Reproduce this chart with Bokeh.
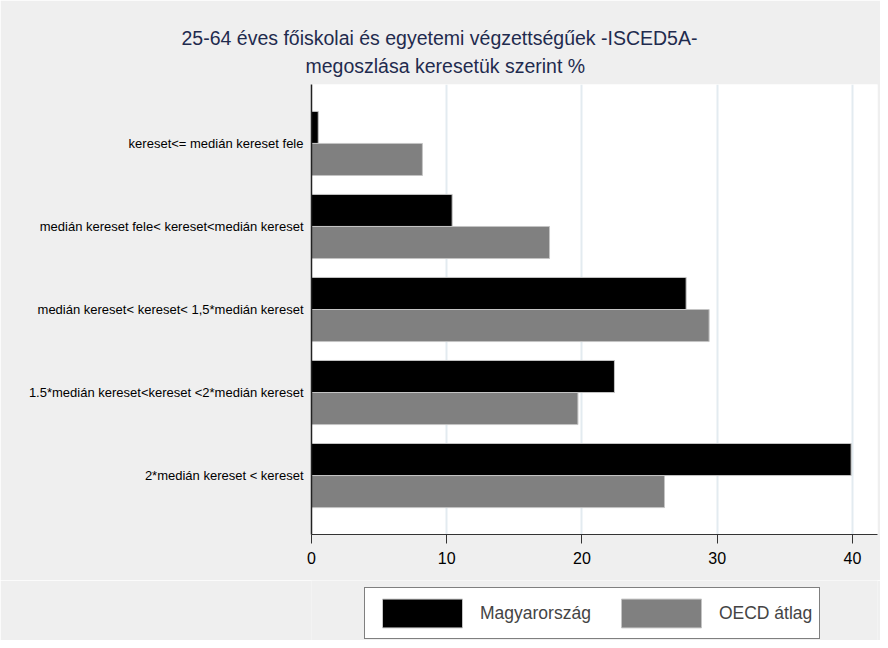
from bokeh.plotting import figure
from bokeh.layouts import column
from bokeh.models import (ColumnDataSource, FactorRange, Range1d, FixedTicker,
                          Legend, LegendItem, Title)
from bokeh.transform import dodge
from bokeh.embed import file_html
from bokeh.resources import INLINE

categories = [
    "kereset<= medián kereset fele",
    "medián kereset fele< kereset<medián kereset",
    "medián kereset< kereset< 1,5*medián kereset",
    "1.5*medián kereset<kereset <2*medián kereset",
    "2*medián kereset < kereset",
]
hungary = [0.5, 10.4, 27.7, 22.4, 39.9]
oecd = [8.2, 17.6, 29.4, 19.7, 26.1]
series_names = ["Magyarország", "OECD átlag"]
series_colors = ["#000000", "#808080"]
x_ticks = [0, 10, 20, 30, 40]
title_lines = ["25-64 éves főiskolai és egyetemi végzettségűek -ISCED5A-",
               "megoszlása keresetük szerint %"]

FONT = "Liberation Sans"
BG = "#efefef"
TITLE_COLOR = "#1f2b4e"
BAR_LINE = "#c4c4c4"

src = ColumnDataSource(dict(cat=categories, hu=hungary, oecd=oecd))

p = figure(
    y_range=FactorRange(factors=categories[::-1], range_padding=0.084),
    x_range=Range1d(0, 41.85),
    width=880, height=580,
    min_border_left=311, min_border_right=3,
    min_border_top=84, min_border_bottom=46,
    output_backend="svg", toolbar_location=None,
    background_fill_color="white", border_fill_color=BG,
    outline_line_color=None,
)

# second title line first: it sits closest to the plot
p.add_layout(Title(text=title_lines[1], align="left", text_font=FONT,
                   text_font_size="19.5px", text_font_style="normal",
                   text_color=TITLE_COLOR, offset=-6, standoff=15), "above")
p.add_layout(Title(text=title_lines[0], align="left", text_font=FONT,
                   text_font_size="19.5px", text_font_style="normal",
                   text_color=TITLE_COLOR, offset=-130, standoff=-7), "above")

p.hbar(y=dodge("cat", 0.193, range=p.y_range), right="hu", left=0,
       height=0.386, source=src, fill_color=series_colors[0],
       line_color=BAR_LINE, line_width=1)
p.hbar(y=dodge("cat", -0.193, range=p.y_range), right="oecd", left=0,
       height=0.386, source=src, fill_color=series_colors[1],
       line_color=BAR_LINE, line_width=1)

# axes
p.xaxis.ticker = FixedTicker(ticks=x_ticks)
p.xaxis.minor_tick_line_color = None
p.xaxis.major_tick_out = 9
p.xaxis.major_tick_in = 0
p.xaxis.major_tick_line_color = "#333333"
p.xaxis.axis_line_color = "#333333"
p.xaxis.major_label_text_font = FONT
p.xaxis.major_label_text_font_size = "16px"
p.xaxis.major_label_text_color = "#000000"
p.xaxis.major_label_standoff = 8

p.yaxis.major_tick_out = 0
p.yaxis.major_tick_in = 0
p.yaxis.minor_tick_line_color = None
p.yaxis.axis_line_color = "#222222"
p.yaxis.axis_line_width = 1.5
p.yaxis.major_label_text_font = FONT
p.yaxis.major_label_text_font_size = "13px"
p.yaxis.major_label_text_color = "#000000"
p.yaxis.major_label_standoff = 8

p.xgrid.ticker = FixedTicker(ticks=x_ticks[1:])
p.xgrid.grid_line_color = "#e3ebf0"
p.xgrid.grid_line_width = 2
p.ygrid.grid_line_color = None

# legend strip below the chart; swatch proxies sit outside its visible range
lf = figure(width=880, height=60, x_range=Range1d(0, 1), y_range=Range1d(0, 1),
            min_border=0, output_backend="svg", toolbar_location=None,
            x_axis_type=None, y_axis_type=None,
            background_fill_color=BG, border_fill_color=BG,
            outline_line_color=None)
lf.grid.grid_line_color = None
proxy_src = ColumnDataSource(dict(y=[-5], right=[-5]))
swatches = [lf.hbar(y="y", right="right", left=-6, height=0.5, source=proxy_src,
                    fill_color=c, line_color=BAR_LINE)
            for c in series_colors]
legend = Legend(
    items=[LegendItem(label=n, renderers=[r]) for n, r in zip(series_names, swatches)],
    orientation="horizontal", location=(53, 1),
    glyph_width=100, glyph_height=36, padding=7, spacing=20,
    label_standoff=8, margin=0,
    label_text_font=FONT, label_text_font_size="17.5px",
    border_line_color="#000000", border_line_width=1,
    background_fill_color="white", background_fill_alpha=1,
)
lf.add_layout(legend, "center")

layout = column(p, lf, spacing=0)
open("out.html", "w").write(file_html(layout, INLINE))
